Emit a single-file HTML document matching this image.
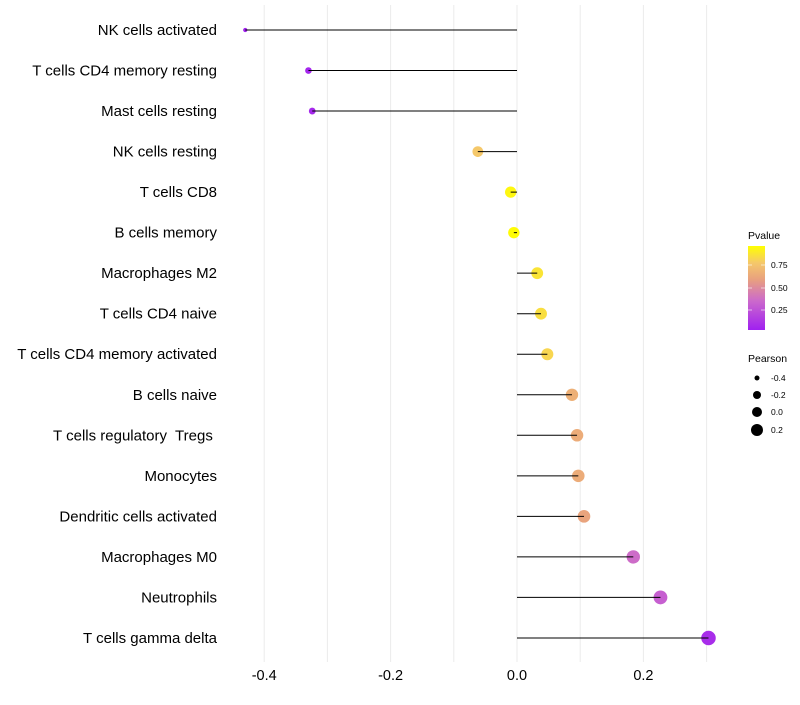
<!DOCTYPE html>
<html><head><meta charset="utf-8"><style>
body{margin:0;background:#fff;}
svg text{font-family:"Liberation Sans",sans-serif;white-space:pre;}
</style></head><body>
<svg id="chart" width="800" height="700" xmlns="http://www.w3.org/2000/svg">
<defs><linearGradient id="pg" x1="0" y1="1" x2="0" y2="0">
<stop offset="0" stop-color="#a020f0"/><stop offset="0.35" stop-color="#cc6acb"/><stop offset="0.6" stop-color="#e8a07f"/><stop offset="0.8" stop-color="#f5c86a"/><stop offset="1" stop-color="#ffff00"/>
</linearGradient></defs>
<g id="grid"></g>
<g id="marks"></g>
<g id="labels"></g>
<g id="xticks"></g>
<g>
<text x="748" y="239" font-size="10.5">Pvalue</text>
<rect x="748" y="246" width="17" height="84" fill="url(#pg)"/>
<line x1="748" y1="265" x2="752" y2="265" stroke="#fff" opacity="0.6"/><line x1="761" y1="265" x2="765" y2="265" stroke="#fff" opacity="0.6"/>
<line x1="748" y1="288" x2="752" y2="288" stroke="#fff" opacity="0.6"/><line x1="761" y1="288" x2="765" y2="288" stroke="#fff" opacity="0.6"/>
<line x1="748" y1="310" x2="752" y2="310" stroke="#fff" opacity="0.6"/><line x1="761" y1="310" x2="765" y2="310" stroke="#fff" opacity="0.6"/>
<text x="771" y="268" font-size="8.5">0.75</text>
<text x="771" y="291" font-size="8.5">0.50</text>
<text x="771" y="313" font-size="8.5">0.25</text>
</g>
<g>
<text x="748" y="362" font-size="10.5">Pearson</text>
<circle cx="757" cy="378" r="2.5" fill="#000"/><text x="771" y="381" font-size="8.5">-0.4</text>
<circle cx="757" cy="395" r="4" fill="#000"/><text x="771" y="398" font-size="8.5">-0.2</text>
<circle cx="757" cy="412" r="5" fill="#000"/><text x="771" y="415" font-size="8.5">0.0</text>
<circle cx="757" cy="430" r="6" fill="#000"/><text x="771" y="433" font-size="8.5">0.2</text>
</g>
</svg>
<script>
const categories=["NK cells activated","T cells CD4 memory resting","Mast cells resting","NK cells resting","T cells CD8","B cells memory","Macrophages M2","T cells CD4 naive","T cells CD4 memory activated","B cells naive","T cells regulatory  Tregs ","Monocytes","Dendritic cells activated","Macrophages M0","Neutrophils","T cells gamma delta"];
const pearson=[-0.43,-0.33,-0.324,-0.062,-0.01,-0.005,0.032,0.038,0.048,0.087,0.095,0.097,0.106,0.184,0.227,0.303];
const pvalues=[0.01,0.03,0.04,0.8,0.97,0.99,0.9,0.88,0.85,0.68,0.66,0.66,0.62,0.36,0.3,0.06];
const xTicks=[-0.4,-0.2,0.0,0.2];
const xTickLabels=["-0.4","-0.2","0.0","0.2"];
const xMinor=[-0.3,-0.1,0.1,0.3];
const NS="http://www.w3.org/2000/svg";
const x=v=>517+v*632;
const y=i=>30+i*40.53;
const r=v=>Math.sqrt(4.5+(v+0.43)/0.73*48);
const stops=[[0,[160,32,240]],[0.35,[204,106,203]],[0.6,[232,160,127]],[0.8,[245,200,106]],[1,[255,255,0]]];
function col(p){for(let k=1;k<stops.length;k++){if(p<=stops[k][0]){const a=stops[k-1],b=stops[k],t=(p-a[0])/(b[0]-a[0]);return 'rgb('+a[1].map((c,j)=>Math.round(c+(b[1][j]-c)*t)).join(',')+')';}}return 'rgb(255,255,0)';}
function mk(tag,attrs,parent){const e=document.createElementNS(NS,tag);for(const k in attrs)e.setAttribute(k,attrs[k]);document.getElementById(parent).appendChild(e);return e;}
xTicks.concat(xMinor).forEach(v=>{
const l=mk('line',{x1:x(v),x2:x(v),y1:5,y2:662,stroke:'#ebebeb','stroke-width':1},'grid');


});
xTicks.forEach((v,i)=>{
const t=mk('text',{x:x(v),y:680,'font-size':14.5,'text-anchor':'middle',fill:'#000'},'xticks');
t.textContent=xTickLabels[i];


});
categories.forEach((c,i)=>{
const t=mk('text',{x:217,y:y(i)+5,'font-size':15,'text-anchor':'end',fill:'#000'},'labels');
t.textContent=c;


const d=mk('circle',{cx:x(pearson[i]),cy:y(i),r:r(pearson[i]),fill:col(pvalues[i])},'marks');


const s=mk('line',{x1:x(0),x2:x(pearson[i]),y1:y(i),y2:y(i),stroke:'#000','stroke-width':1},'marks');


});
</script>
</body></html>
